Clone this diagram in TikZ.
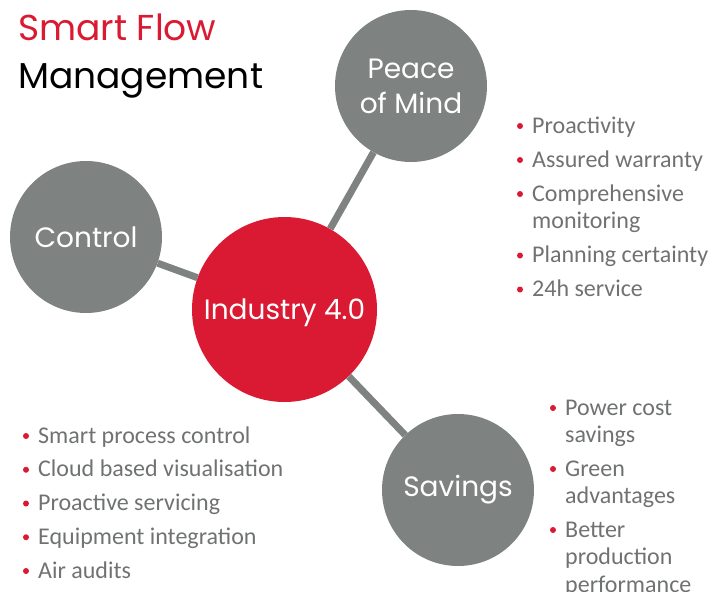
\documentclass[tikz,border=0pt]{standalone}
\usepackage{fontspec}
\setmainfont{Carlito}
\newfontfamily\gotham{Poppins}
\usepackage{tikz}

\definecolor{sfred}{RGB}{218,26,51}
\definecolor{sfgray}{RGB}{126,130,129}
\definecolor{listgray}{RGB}{112,114,114}

\newcommand{\itemlines}[1]{\begin{tabular}[t]{@{}l@{}}#1\end{tabular}}

\begin{document}
\begin{tikzpicture}[x=1pt,y=-1pt]

\tikzstyle{every node}=[inner sep=0pt]
\tikzstyle{hub}=[circle, fill=sfgray, text=white, minimum size=152pt, align=center, font=\gotham\fontsize{28}{35}\selectfont]
\tikzstyle{core}=[hub, fill=sfred, minimum size=185pt]
\tikzstyle{link}=[draw=sfgray, line width=7pt]
\tikzstyle{item}=[anchor=base west, text=listgray, font=\fontsize{24}{27.5}\selectfont]
\tikzstyle{dot}=[circle, fill=sfred, minimum size=6pt]
\tikzstyle{heading}=[anchor=base west, font=\gotham\fontsize{36}{45}\selectfont]

\useasboundingbox (0,0) rectangle (726,592);

\node[heading, text=sfred] (title_top) at (18,40) {Smart Flow};
\node[heading, text=black] (title_bottom) at (18,88) {Management};

\node[core] (industry) at (284.5,309.5) {\raisebox{-3pt}[\height][\depth]{Industry 4.0}};
\node[hub] (peace) at (411,86) {Peace\\of Mind};
\node[hub] (control) at (86,237) {Control};
\node[hub] (savings) at (458,490) {Savings};

\draw[link] (industry) -- (peace);
\draw[link] (industry) -- (control);
\draw[link] (industry) -- (savings);


\pgfmathsetmacro\x{532}
\pgfmathsetmacro\y{133}

\node[item] (proactivity) at (\x,\y) {Proactivity};
\node[dot] (proactivity_dot) at (\x-12,\y-7) {};

\pgfmathsetmacro\y{\y+34}
\node[item] (warranty) at (\x,\y) {Assured warranty};
\node[dot] (warranty_dot) at (\x-12,\y-7) {};

\pgfmathsetmacro\y{\y+34}
\node[item] (monitoring) at (\x,\y) {\itemlines{Comprehensive\\monitoring}};
\node[dot] (monitoring_dot) at (\x-12,\y-7) {};

\pgfmathsetmacro\y{\y+61.5}
\node[item] (certainty) at (\x,\y) {Planning certainty};
\node[dot] (certainty_dot) at (\x-12,\y-7) {};

\pgfmathsetmacro\y{\y+34}
\node[item] (service) at (\x,\y) {24h service};
\node[dot] (service_dot) at (\x-12,\y-7) {};


\pgfmathsetmacro\x{38}
\pgfmathsetmacro\y{443}

\node[item] (process) at (\x,\y) {Smart process control};
\node[dot] (process_dot) at (\x-12,\y-7) {};

\pgfmathsetmacro\y{\y+33.75}
\node[item] (cloud) at (\x,\y) {Cloud based visualisation};
\node[dot] (cloud_dot) at (\x-12,\y-7) {};

\pgfmathsetmacro\y{\y+33.75}
\node[item] (servicing) at (\x,\y) {Proactive servicing};
\node[dot] (servicing_dot) at (\x-12,\y-7) {};

\pgfmathsetmacro\y{\y+33.75}
\node[item] (integration) at (\x,\y) {Equipment integration};
\node[dot] (integration_dot) at (\x-12,\y-7) {};

\pgfmathsetmacro\y{\y+33.75}
\node[item] (audits) at (\x,\y) {Air audits};
\node[dot] (audits_dot) at (\x-12,\y-7) {};


\pgfmathsetmacro\x{565}
\pgfmathsetmacro\y{415}

\node[item] (power) at (\x,\y) {\itemlines{Power cost\\savings}};
\node[dot] (power_dot) at (\x-12,\y-7) {};

\pgfmathsetmacro\y{\y+61}
\node[item] (green) at (\x,\y) {\itemlines{Green\\advantages}};
\node[dot] (green_dot) at (\x-12,\y-7) {};

\pgfmathsetmacro\y{\y+61}
\node[item] (production) at (\x,\y) {\itemlines{Better\\production\\performance}};
\node[dot] (production_dot) at (\x-12,\y-7) {};

\end{tikzpicture}
\end{document}
